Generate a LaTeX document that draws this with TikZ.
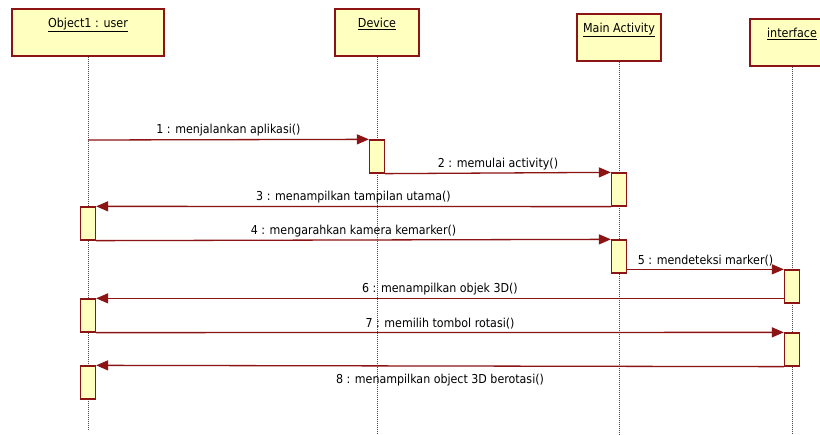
\documentclass[tikz,border=0pt]{standalone}
\usepackage{fontspec}
\setmainfont{DejaVu Sans Condensed}
\usetikzlibrary{arrows.meta}
\definecolor{bord}{RGB}{140,20,20}
\definecolor{fillY}{RGB}{255,255,192}
\begin{document}
\begin{tikzpicture}[x=1pt,y=-1pt,
  hdr/.style={draw=bord,fill=fillY,line width=1.5pt,inner sep=0pt,minimum height=47pt},
  hdrtext/.style={anchor=north,inner sep=0pt,font=\fontsize{12.4}{14}\selectfont},
  act/.style={draw=bord,fill=fillY,line width=1.3pt,inner sep=0pt,minimum width=15pt,minimum height=33pt},
  lifeline/.style={draw=black!70,line width=0.8pt,dash pattern=on 1pt off 1pt},
  msg/.style={draw=bord,line width=1.3pt,-{Triangle[length=12pt,width=10pt]}},
  lbl/.style={font=\fontsize{12.3}{14}\selectfont,inner sep=2.5pt,text=black}]
\clip (0,0) rectangle (820,435);
\fill[white] (0,0) rectangle (820,435);
% headers
\node[hdr,minimum width=152pt] (hu) at (88,32.5) {};
\node[hdr,minimum width=84pt] (hd) at (377,32.5) {};
\node[hdr,minimum width=84pt] (hm) at (619,37.5) {};
\node[hdr,minimum width=84pt] (hi) at (792,42.5) {};
\node[hdrtext] (tu) at ([yshift=-9.5pt]hu.north) {\underline{Object1 : user}};
\node[hdrtext] (td) at ([yshift=-9.5pt]hd.north) {\underline{Device}};
\node[hdrtext] (tm) at ([yshift=-9.5pt]hm.north) {\underline{Main Activity}};
\node[hdrtext] (ti) at ([yshift=-9.5pt]hi.north) {\underline{interface}};
% lifeline ends
\coordinate (eu) at (88,430);
\coordinate (ed) at (377,435);
\coordinate (em) at (619,435);
\coordinate (ei) at (792,435);
\draw[lifeline] (hu.south) -- (eu);
\draw[lifeline] (hd.south) -- (ed);
\draw[lifeline] (hm.south) -- (em);
\draw[lifeline] (hi.south) -- (ei);
% activations
\node[act] (d1) at (377,156.5) {};
\node[act] (m1) at (619,189.5) {};
\node[act] (u1) at (88,223.5) {};
\node[act] (m2) at (619,256.5) {};
\node[act] (i1) at (792,286.5) {};
\node[act] (u2) at (88,315.5) {};
\node[act] (i2) at (792,349.5) {};
\node[act] (u3) at (88,382.5) {};
% messages
\coordinate (s1) at (88,140);
\draw[msg] (s1) -- node[lbl,above] (l1) {1 : menjalankan aplikasi()} (d1.north west);
\draw[msg] (d1.south east) -- node[lbl,above] (l2) {2 : memulai activity()} (m1.north west);
\draw[msg] (m1.south west) -- node[lbl,above] (l3) {3 : menampilkan tampilan utama()} (u1.north east);
\draw[msg] (u1.south east) -- node[lbl,above] (l4) {4 : mengarahkan kamera kemarker()} (m2.north west);
\draw[msg] (m2.east |- i1.north) -- node[lbl,above] (l5) {5 : mendeteksi marker()} (i1.north west);
\draw[msg] (i1.west |- u2.north) -- node[lbl,above] (l6) {6 : menampilkan objek 3D()} (u2.north east);
\draw[msg] (u2.south east) -- node[lbl,above] (l7) {7 : memilih tombol rotasi()} (i2.north west);
\draw[msg] (i2.south west) -- node[lbl,below,yshift=-5pt] (l8) {8 : menampilkan object 3D berotasi()} (u3.north east);
\end{tikzpicture}
\end{document}
